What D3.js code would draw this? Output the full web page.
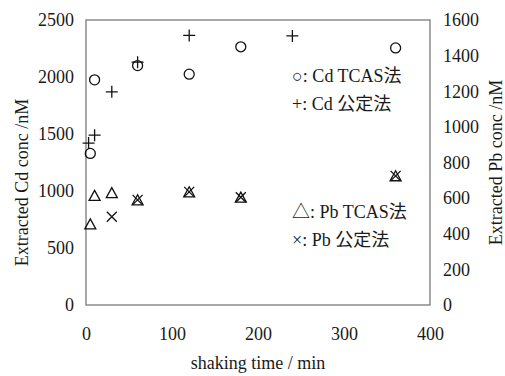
<!DOCTYPE html>
<html>
<head>
<meta charset="utf-8">
<script src="https://cdn.jsdelivr.net/npm/d3@7"></script>
<style>
  body { margin: 0; background: #fff; }
  svg text { font-family: "Liberation Serif", "Times New Roman", "Noto Sans CJK JP", serif; fill: #1a1a1a; }
</style>
</head>
<body>
<svg id="chart" width="505" height="376"></svg>
<script>
const width = 505;
const height = 376;
const margin = {top: 20, right: 75, bottom: 71, left: 86};

// data (time in min, conc in nM)
const cdTcasTime = [5, 10, 60, 120, 180, 360];
const cdTcasConc = [1330, 1975, 2100, 2025, 2265, 2255];
const cdStdTime = [3, 10, 30, 60, 120, 240];
const cdStdConc = [1420, 1490, 1870, 2130, 2365, 2360];
const pbTcasTime = [5, 10, 30, 60, 120, 180, 360];
const pbTcasConc = [450, 610, 625, 585, 630, 600, 720];
const pbStdTime = [30, 60, 120, 180, 360];
const pbStdConc = [495, 590, 635, 605, 725];

const xTicks = [0, 100, 200, 300, 400];
const yLeftTicks = [0, 500, 1000, 1500, 2000, 2500];
const yRightTicks = [0, 200, 400, 600, 800, 1000, 1200, 1400, 1600];
const legendLabels = ["○: Cd TCAS法", "+: Cd 公定法", "△: Pb TCAS法", "×: Pb 公定法"];

const svg = d3.select("#chart");

const x = d3.scaleLinear().domain([0, 400]).range([margin.left, width - margin.right]);
const yL = d3.scaleLinear().domain([0, 2500]).range([height - margin.bottom, margin.top]);
const yR = d3.scaleLinear().domain([0, 1600]).range([height - margin.bottom, margin.top]);

// frame
svg.append("rect")
    .attr("x", margin.left)
    .attr("y", margin.top)
    .attr("width", width - margin.left - margin.right)
    .attr("height", height - margin.top - margin.bottom)
    .attr("fill", "none")
    .attr("stroke", "#8a8a8a")
    .attr("stroke-width", 1.5);

// axes (labels only, the frame carries the lines)
const fmt = d3.format("d");
const xAxis = svg.append("g")
    .attr("transform", `translate(0,${height - margin.bottom})`)
    .call(d3.axisBottom(x).tickValues(xTicks).tickFormat(fmt).tickSize(0).tickPadding(22));

const leftAxis = svg.append("g")
    .attr("transform", `translate(${margin.left},0)`)
    .call(d3.axisLeft(yL).tickValues(yLeftTicks).tickFormat(fmt).tickSize(0).tickPadding(12));

const rightAxis = svg.append("g")
    .attr("transform", `translate(${width - margin.right},0)`)
    .call(d3.axisRight(yR).tickValues(yRightTicks).tickFormat(fmt).tickSize(0).tickPadding(13));

[xAxis, leftAxis, rightAxis].forEach(g => {
  g.attr("font-family", null).attr("font-size", null);
  g.select(".domain").remove();
  g.selectAll("text")
    .attr("font-size", 18)
    .attr("font-family", '"Liberation Serif", serif')
    .attr("fill", "#1a1a1a");
});

// axis titles
svg.append("text")
    .attr("transform", `translate(28,${(margin.top + height - margin.bottom) / 2 + 20}) rotate(-90)`)
    .attr("text-anchor", "middle")
    .attr("font-size", 18)
    .text("Extracted Cd conc /nM");

svg.append("text")
    .attr("transform", `translate(502,${(margin.top + height - margin.bottom) / 2}) rotate(-90)`)
    .attr("text-anchor", "middle")
    .attr("font-size", 18)
    .text("Extracted Pb conc /nM");

svg.append("text")
    .attr("x", (margin.left + width - margin.right) / 2)
    .attr("y", 369)
    .attr("text-anchor", "middle")
    .attr("font-size", 18)
    .text("shaking time / min");

// markers
const marks = svg.append("g")
    .attr("fill", "none")
    .attr("stroke", "#111")
    .attr("stroke-width", 1.3);

marks.selectAll(".cdTcas")
  .data(d3.zip(cdTcasTime, cdTcasConc))
  .join("circle")
    .attr("class", "cdTcas")
    .attr("cx", d => x(d[0]))
    .attr("cy", d => yL(d[1]))
    .attr("r", 5);

marks.selectAll(".cdStd")
  .data(d3.zip(cdStdTime, cdStdConc))
  .join("path")
    .attr("class", "cdStd")
    .attr("transform", d => `translate(${x(d[0])},${yL(d[1])})`)
    .attr("d", "M-6,0H6M0,-6V6");

marks.selectAll(".pbTcas")
  .data(d3.zip(pbTcasTime, pbTcasConc))
  .join("path")
    .attr("class", "pbTcas")
    .attr("transform", d => `translate(${x(d[0])},${yR(d[1])})`)
    .attr("d", "M0,-6L5.5,4L-5.5,4Z");

marks.selectAll(".pbStd")
  .data(d3.zip(pbStdTime, pbStdConc))
  .join("path")
    .attr("class", "pbStd")
    .attr("transform", d => `translate(${x(d[0])},${yR(d[1])})`)
    .attr("d", "M-5,-5L5,5M-5,5L5,-5");

// legend text
const legendY = [82, 110, 218, 246];
svg.selectAll(".legend")
  .data(legendLabels)
  .join("text")
    .attr("class", "legend")
    .attr("x", 292)
    .attr("y", (d, i) => legendY[i])
    .attr("font-size", 18)
    .attr("fill", "#333")
    .text(d => d);
</script>
</body>
</html>
